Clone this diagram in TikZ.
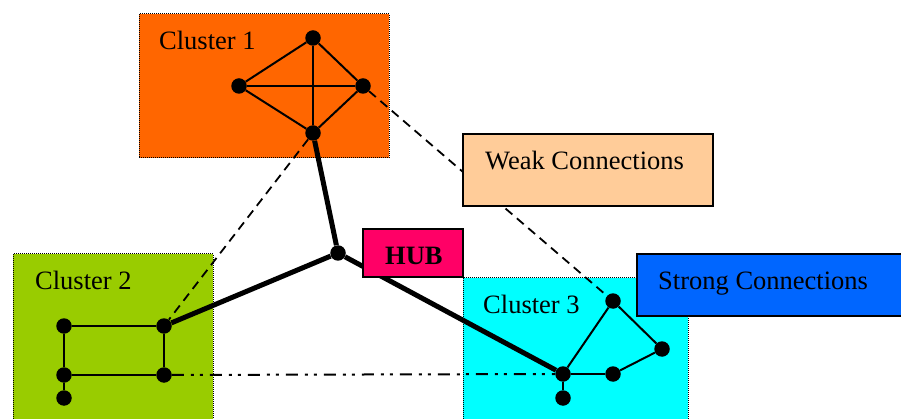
\documentclass[tikz,border=0pt]{standalone}
\usepackage{fontspec}
\setmainfont{Liberation Serif}
\definecolor{c1col}{HTML}{FF6600}
\definecolor{c2col}{HTML}{99CC00}
\definecolor{c3col}{HTML}{00FFFF}
\definecolor{weakcol}{HTML}{FFCC99}
\definecolor{strongcol}{HTML}{0066FF}
\definecolor{hubcol}{HTML}{FF0066}
\tikzset{
  clusterbox/.style={draw=black, line width=1pt, dash pattern=on 1pt off 1pt, inner sep=0pt},
  labelbox/.style={draw=black, line width=2pt, inner sep=0pt},
  dot/.style={circle, fill=black, inner sep=0pt, minimum size=15.5pt},
  thinedge/.style={line width=2pt},
  thickedge/.style={line width=5pt},
  weakedge/.style={line width=1.8pt, dash pattern=on 9pt off 6pt},
  dashdotedge/.style={line width=2pt, dash pattern=on 12pt off 7pt on 3pt off 6pt on 3pt off 7pt},
  txt/.style={anchor=base west, inner sep=0pt, font=\fontsize{26.5}{30}\selectfont}
}
\begin{document}
\begin{tikzpicture}[x=1pt,y=-1pt]
\clip (0,0) rectangle (901,419);
% cluster areas
\node[clusterbox, fill=c1col, minimum width=250pt, minimum height=144pt] (cl1) at (264,86) {};
\node[clusterbox, fill=c2col, minimum width=200pt, minimum height=180pt] (cl2) at (113,344) {};
\node[clusterbox, fill=c3col, minimum width=225pt, minimum height=160pt] (cl3) at (575.5,358) {};
\node[txt] (cl1t) at (159,50) {Cluster 1};
\node[txt] (cl2t) at (35,290) {Cluster 2};
\node[txt] (cl3t) at (483,313) {Cluster 3};
% nodes
\node[dot] (a1) at (313,38) {};
\node[dot] (a2) at (239,86) {};
\node[dot] (a3) at (363,86) {};
\node[dot] (a4) at (313,133) {};
\node[dot] (hub) at (338,253) {};
\node[dot] (b1) at (64,326) {};
\node[dot] (b2) at (164,326) {};
\node[dot] (b3) at (64,375) {};
\node[dot] (b4) at (164,375) {};
\node[dot] (b5) at (64,398) {};
\node[dot] (d1) at (563,374) {};
\node[dot] (d2) at (563,398) {};
\node[dot] (d3) at (613,374) {};
\node[dot] (d4) at (662,349) {};
\node[dot] (d5) at (613,301) {};
% weak and dash-dot connections
\draw[weakedge] (a4) -- (b2);
\draw[weakedge] (a3) -- (d5);
\draw[dashdotedge] (b4) -- (d1);
% legend boxes
\node[labelbox, fill=weakcol, minimum width=250pt, minimum height=72pt] (weak) at (588,170) {};
\node[txt] (weakt) at (485,170) {Weak Connections};
\node[labelbox, fill=strongcol, minimum width=270pt, minimum height=62pt] (strong) at (772,285) {};
\node[txt] (strongt) at (658,290) {Strong Connections};
% strong connections
\draw[thickedge] (a4) -- (hub);
\draw[thickedge] (hub) -- (b2);
\draw[thickedge] (hub) -- (d1);
\node[labelbox, fill=hubcol, minimum width=100pt, minimum height=48pt] (hubbox) at (413,253) {};
\node[txt, font=\fontsize{26.5}{30}\selectfont\bfseries] (hubt) at (385,265) {HUB};
% cluster edges
\draw[thinedge] (a1) -- (a2);
\draw[thinedge] (a1) -- (a3);
\draw[thinedge] (a2) -- (a3);
\draw[thinedge] (a2) -- (a4);
\draw[thinedge] (a3) -- (a4);
\draw[thinedge] (a1) -- (a4);
\draw[thinedge] (b1) -- (b2);
\draw[thinedge] (b2) -- (b4);
\draw[thinedge] (b4) -- (b3);
\draw[thinedge] (b3) -- (b1);
\draw[thinedge] (b3) -- (b5);
\draw[thinedge] (d1) -- (d5);
\draw[thinedge] (d5) -- (d4);
\draw[thinedge] (d4) -- (d3);
\draw[thinedge] (d3) -- (d1);
\draw[thinedge] (d1) -- (d2);
\end{tikzpicture}
\end{document}
